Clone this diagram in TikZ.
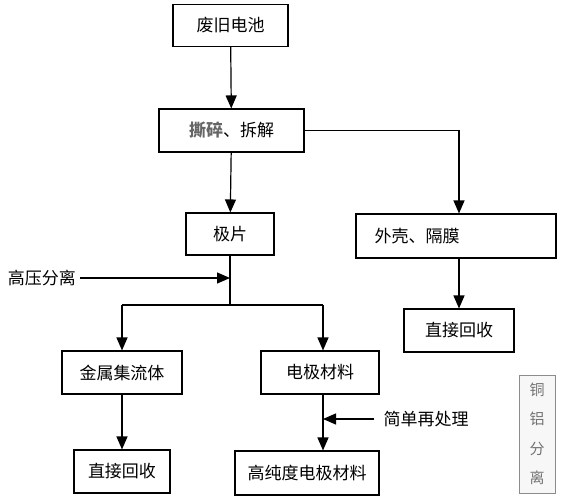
\documentclass[tikz,border=0pt]{standalone}
\usepackage{fontspec}
\setmainfont{Noto Sans CJK SC}
\usetikzlibrary{arrows.meta}

\begin{document}
\begin{tikzpicture}[x=1pt,y=-1pt]
				\tikzstyle{stepbox}=[rectangle,draw,line width=1.1pt,minimum height=42pt,inner sep=0pt,font=\fontsize{17}{19}\selectfont]
				\tikzstyle{flow}=[line width=1.2pt,-{Triangle[length=13pt,width=11pt]}]
				\tikzstyle{side}=[inner sep=0pt,font=\fontsize{17}{19}\selectfont]
				\useasboundingbox (0,0) rectangle (566,499);
				\node[stepbox,minimum width=115pt] (battery) at (230.5,25.5) {废旧电池};
				\node[stepbox,minimum width=145pt,minimum height=43pt] (crush) at (231.5,130.5) {{\bfseries\color{black!60}撕碎}、拆解};
				\node[stepbox,minimum width=88pt] (sheet) at (230,234) {极片};
				\node[stepbox,minimum width=200pt,minimum height=44pt] (shell) at (456,236) {\hspace*{-78pt}外壳、隔膜};
				\node[stepbox,minimum width=110pt,minimum height=43pt] (reuseA) at (459,330.5) {直接回收};
				\node[stepbox,minimum width=120pt,minimum height=43pt] (foil) at (122,372.5) {金属集流体};
				\node[stepbox,minimum width=118pt,minimum height=43pt] (active) at (320,372.5) {电极材料};
				\node[stepbox,minimum width=96pt,minimum height=43pt] (reuseB) at (122,471.5) {直接回收};
				\node[stepbox,minimum width=144pt,minimum height=44pt] (pure) at (307,473) {高纯度电极材料};
				\node[side] (press) at (42,278) {高压分离};
				\node[side] (treat) at (426,419) {简单再处理};
				\node[draw=black!45,fill=black!3,line width=0.8pt,minimum width=36pt,minimum height=118pt,inner sep=0pt,
					text=black!55,align=center,font=\fontsize{15}{29.5}\selectfont] (split) at (537,434) {铜\\铝\\分\\离};
				% junctions
				\coordinate (j1) at (230,278);
				\coordinate (j2) at (230,305);
				\coordinate (jl) at (122,305);
				\coordinate (jr) at (323,305);
				\coordinate (j3) at (323,419);
				\draw[flow] (battery) -- (crush);
				\draw[flow] (crush) -- (sheet);
				\draw[flow] (crush.east) -| (shell.north -| reuseA);
				\draw[flow] (shell.south -| reuseA) -- (reuseA);
				\draw[line width=1.2pt] (sheet) -- (j2);
				\draw[flow] ([xshift=4pt]press.east) -- (j1);
				\draw[line width=1.2pt] (jl) -- (jr);
				\draw[flow] (jl) -- (foil);
				\draw[flow] (jr) -- (active.north -| jr);
				\draw[flow] (foil) -- (reuseB);
				\draw[flow] (active.south -| jr) -- (pure.north -| jr);
				\draw[flow] ([xshift=-9pt]treat.west) -- (j3);
\end{tikzpicture}
\end{document}
